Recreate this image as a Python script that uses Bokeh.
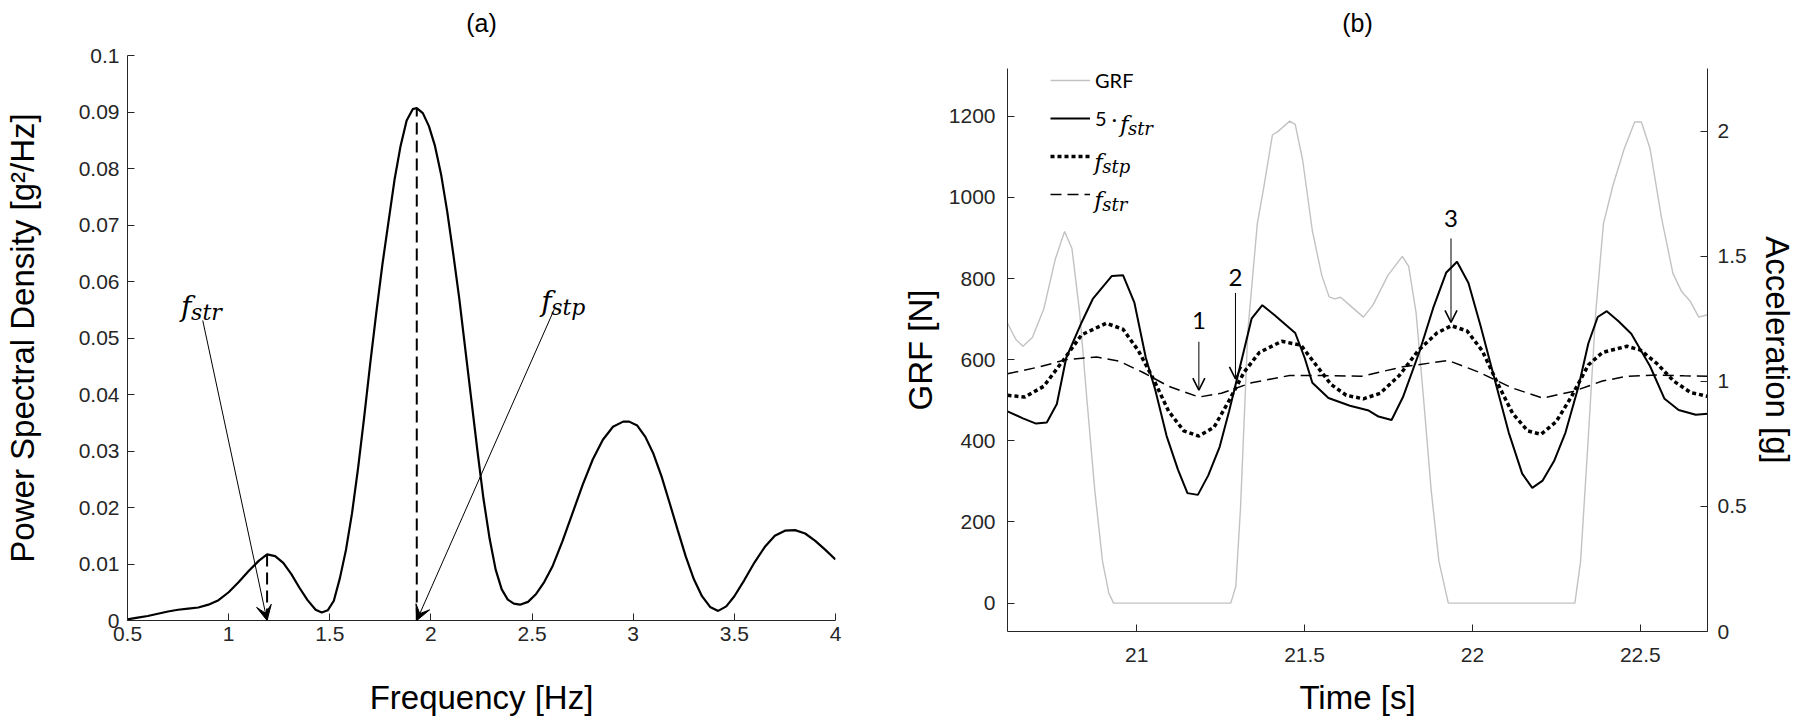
from bokeh.plotting import figure
from bokeh.models import (Range1d, LinearAxis, FixedTicker, Label, Arrow, VeeHead,
                          OpenHead, Legend, LegendItem)
from bokeh.layouts import row
from bokeh.embed import file_html
from bokeh.resources import INLINE

# ---------------- data: panel (a) ----------------
psd_freq = [0.50, 0.55, 0.60, 0.65, 0.70, 0.75, 0.80, 0.85, 0.90, 0.95,
            1.00, 1.05, 1.10, 1.15, 1.19, 1.23, 1.27, 1.31, 1.35, 1.39,
            1.43, 1.46, 1.49, 1.52, 1.55, 1.58, 1.61, 1.64, 1.67, 1.70,
            1.73, 1.76, 1.79, 1.82, 1.85, 1.88, 1.91, 1.93, 1.96, 1.99,
            2.02, 2.05, 2.08, 2.11, 2.14, 2.17, 2.20, 2.23, 2.26, 2.29,
            2.32, 2.35, 2.38, 2.41, 2.44, 2.48, 2.52, 2.56, 2.60, 2.65,
            2.70, 2.75, 2.80, 2.85, 2.90, 2.95, 2.98, 3.02, 3.06, 3.10,
            3.14, 3.18, 3.22, 3.26, 3.30, 3.34, 3.38, 3.42, 3.46, 3.50,
            3.55, 3.60, 3.65, 3.70, 3.75, 3.80, 3.85, 3.90, 3.95, 4.00]
psd_val = [0.0002, 0.0005, 0.0008, 0.0012, 0.0016, 0.0019, 0.0021, 0.0023, 0.0028, 0.0036,
           0.0050, 0.0068, 0.0088, 0.0106, 0.0117, 0.0114, 0.0102, 0.0082, 0.0058, 0.0036,
           0.0019, 0.0014, 0.0018, 0.0035, 0.0075, 0.0125, 0.0190, 0.0270, 0.0360, 0.0455,
           0.0545, 0.0630, 0.0705, 0.0780, 0.0840, 0.0885, 0.0905, 0.0907, 0.0898, 0.0875,
           0.0840, 0.0790, 0.0725, 0.0650, 0.0570, 0.0480, 0.0390, 0.0300, 0.0215, 0.0145,
           0.0090, 0.0055, 0.0037, 0.0030, 0.0028, 0.0033, 0.0047, 0.0068, 0.0095, 0.0140,
           0.0190, 0.0240, 0.0285, 0.0320, 0.0343, 0.0352, 0.0352, 0.0345, 0.0325, 0.0295,
           0.0255, 0.0208, 0.0160, 0.0113, 0.0073, 0.0043, 0.0024, 0.0017, 0.0025, 0.0043,
           0.0072, 0.0103, 0.0130, 0.0150, 0.0159, 0.0160, 0.0154, 0.0141, 0.0125, 0.0108]
peak_freq = [1.19, 1.93]          # f_str, f_stp
peak_psd = [0.0117, 0.0907]
freq_ticks = [0.5, 1.0, 1.5, 2.0, 2.5, 3.0, 3.5, 4.0]
freq_tick_labels = ["0.5", "1", "1.5", "2", "2.5", "3", "3.5", "4"]
psd_ticks = [0.0, 0.01, 0.02, 0.03, 0.04, 0.05, 0.06, 0.07, 0.08, 0.09, 0.1]
psd_tick_labels = ["0", "0.01", "0.02", "0.03", "0.04", "0.05", "0.06", "0.07", "0.08",
                   "0.09", "0.1"]

# ---------------- data: panel (b) ----------------
grf_t = [20.615, 20.64, 20.661, 20.689, 20.723, 20.757, 20.785, 20.807, 20.83, 20.852,
         20.875, 20.898, 20.917, 20.931, 21.28, 21.295, 21.309, 21.331, 21.359, 21.378,
         21.404, 21.421, 21.455, 21.472, 21.494, 21.523, 21.551, 21.573, 21.59, 21.607,
         21.635, 21.675, 21.703, 21.748, 21.791, 21.81, 21.832, 21.855, 21.877, 21.90,
         21.928, 22.305, 22.322, 22.345, 22.367, 22.39, 22.418, 22.452, 22.483, 22.503,
         22.529, 22.563, 22.597, 22.623, 22.648, 22.674, 22.70]
grf_n = [690, 650, 633, 655, 725, 847, 916, 874, 716, 497,
         278, 103, 24, 0, 0, 41, 234, 672, 935, 1023,
         1154, 1163, 1188, 1180, 1093, 918, 808, 755, 750, 754,
         734, 705, 734, 808, 855, 830, 716, 497, 278, 103,
         0, 0, 103, 409, 716, 935, 1029, 1120, 1186, 1186,
         1120, 950, 813, 768, 745, 705, 711]

str5_t = [20.615, 20.661, 20.70, 20.732, 20.762, 20.79, 20.836, 20.869, 20.926, 20.959,
          20.993, 21.027, 21.055, 21.089, 21.123, 21.151, 21.182, 21.213, 21.247, 21.275,
          21.314, 21.342, 21.374, 21.41, 21.472, 21.5, 21.523, 21.571, 21.635, 21.691,
          21.72, 21.759, 21.793, 21.843, 21.883, 21.922, 21.954, 21.988, 22.024, 22.063,
          22.108, 22.148, 22.178, 22.209, 22.243, 22.277, 22.316, 22.345, 22.373, 22.40,
          22.435, 22.473, 22.529, 22.572, 22.614, 22.665, 22.70]
str5_acc = [0.880, 0.852, 0.831, 0.835, 0.909, 1.094, 1.236, 1.329, 1.421, 1.424,
            1.314, 1.094, 0.966, 0.781, 0.646, 0.553, 0.546, 0.624, 0.738, 0.880,
            1.094, 1.250, 1.304, 1.265, 1.193, 1.094, 0.994, 0.933, 0.902, 0.883,
            0.859, 0.845, 0.937, 1.122, 1.293, 1.435, 1.478, 1.393, 1.222, 1.023,
            0.795, 0.631, 0.574, 0.603, 0.681, 0.795, 0.980, 1.151, 1.257, 1.280,
            1.240, 1.190, 1.060, 0.930, 0.885, 0.866, 0.870]

stp_t = [20.615, 20.667, 20.723, 20.779, 20.836, 20.909, 20.959, 21.005, 21.05, 21.095,
         21.14, 21.185, 21.23, 21.275, 21.32, 21.365, 21.432, 21.489, 21.534, 21.579,
         21.624, 21.675, 21.725, 21.782, 21.838, 21.894, 21.937, 21.984, 22.029, 22.074,
         22.119, 22.164, 22.204, 22.249, 22.294, 22.345, 22.387, 22.46, 22.50, 22.55,
         22.60, 22.65, 22.70]
stp_acc = [0.944, 0.937, 0.980, 1.080, 1.186, 1.232, 1.208, 1.122, 1.008, 0.880,
           0.802, 0.781, 0.816, 0.923, 1.037, 1.115, 1.160, 1.144, 1.065, 0.987,
           0.944, 0.930, 0.952, 1.023, 1.122, 1.193, 1.222, 1.201, 1.122, 0.994,
           0.873, 0.802, 0.788, 0.838, 0.937, 1.065, 1.115, 1.140, 1.125, 1.070,
           1.000, 0.955, 0.940]

str_t = [20.615, 20.712, 20.791, 20.881, 20.948, 21.016, 21.095, 21.185, 21.252, 21.342,
         21.455, 21.556, 21.669, 21.793, 21.928, 22.018, 22.119, 22.209, 22.299, 22.387,
         22.46, 22.55, 22.63, 22.70]
str_acc = [1.030, 1.058, 1.087, 1.097, 1.080, 1.037, 0.980, 0.937, 0.952, 0.994,
           1.023, 1.023, 1.020, 1.058, 1.083, 1.037, 0.973, 0.933, 0.959, 1.001,
           1.020, 1.025, 1.022, 1.020]

time_ticks = [21.0, 21.5, 22.0, 22.5]
time_tick_labels = ["21", "21.5", "22", "22.5"]
grf_ticks = [0, 200, 400, 600, 800, 1000, 1200]
acc_ticks = [0.0, 0.5, 1.0, 1.5, 2.0]
acc_tick_labels = ["0", "0.5", "1", "1.5", "2"]

event_labels = ["1", "2", "3"]
event_t = [21.185, 21.294, 21.936]

# ---------------- styling ----------------
FONT = "'Liberation Sans', Arial, Helvetica, sans-serif"
MATH = "'DejaVu Serif', serif"
CAL = "Lato, 'Open Sans', sans-serif"
AX = "#262626"
H = 722
W1, W2 = 898, 900


def style_axis(ax, label_standoff, tick_standoff, label_size="33px"):
    ax.axis_line_color = AX
    ax.axis_line_width = 1
    ax.major_tick_line_color = AX
    ax.major_tick_in = 7
    ax.major_tick_out = 0
    ax.minor_tick_line_color = None
    ax.major_label_text_font = FONT
    ax.major_label_text_font_size = "21px"
    ax.major_label_text_color = AX
    ax.major_label_standoff = tick_standoff
    ax.axis_label_text_font = FONT
    ax.axis_label_text_font_size = label_size
    ax.axis_label_text_font_style = "normal"
    ax.axis_label_text_color = "black"
    ax.axis_label_standoff = label_standoff


def title_axis(p, text, standoff):
    ax = LinearAxis(axis_label=text, ticker=FixedTicker(ticks=[]))
    ax.axis_line_color = None
    ax.major_tick_in = 0
    ax.major_tick_out = 0
    ax.minor_tick_in = 0
    ax.minor_tick_out = 0
    ax.major_tick_line_color = None
    ax.minor_tick_line_color = None
    ax.major_label_text_color = None
    ax.major_label_standoff = 0
    ax.axis_label_text_font = FONT
    ax.axis_label_text_font_size = "25px"
    ax.axis_label_text_font_style = "normal"
    ax.axis_label_text_color = "black"
    ax.axis_label_standoff = standoff
    p.add_layout(ax, "above")


def math_label(p, x, y, sub, size, sub_size, f_adv, sub_drop, y_shift=0, **kw):
    p.add_layout(Label(x=x, y=y, y_offset=y_shift, text="f", text_font=MATH,
                       text_font_size=f"{size}px", text_font_style="italic",
                       text_color="black", text_baseline="alphabetic", text_align="left", **kw))
    p.add_layout(Label(x=x, y=y, x_offset=f_adv, y_offset=y_shift - sub_drop, text=sub,
                       text_font=MATH, text_font_size=f"{sub_size}px",
                       text_font_style="italic", text_color="black",
                       text_baseline="alphabetic", text_align="left", **kw))


# ================= panel (a) =================
p1 = figure(width=W1, height=H, x_range=Range1d(0.5, 4.0), y_range=Range1d(0.0, 0.1),
            output_backend="svg", toolbar_location=None,
            min_border_left=122, min_border_right=W1 - 835, min_border_top=55,
            min_border_bottom=H - 620)
p1.frame_align = False
p1.grid.visible = False
p1.outline_line_color = None
p1.background_fill_color = "white"
p1.border_fill_color = "white"

xa1 = p1.below[0]
ya1 = p1.left[0]
xa1.ticker = FixedTicker(ticks=freq_ticks)
xa1.major_label_overrides = dict(zip(freq_ticks, freq_tick_labels))
ya1.ticker = FixedTicker(ticks=psd_ticks)
ya1.major_label_overrides = dict(zip(psd_ticks, psd_tick_labels))
xa1.axis_label = "Frequency [Hz]"
ya1.axis_label = "Power Spectral Density [g\u00b2/Hz]"
style_axis(xa1, 35, 6)
style_axis(ya1, 35, 8)
title_axis(p1, "(a)", 19)

p1.line(psd_freq, psd_val, line_color="black", line_width=2.2)
p1.segment(x0=peak_freq, y0=[0.0] * len(peak_freq), x1=peak_freq, y1=peak_psd,
           line_color="black", line_width=2, line_dash="12 6")

p1.add_layout(Arrow(x_start=0.872, y_start=0.0531, x_end=peak_freq[0], y_end=0.0,
                    line_width=1, line_color="black",
                    end=VeeHead(size=15, fill_color="black", line_color="black", line_width=1)))
p1.add_layout(Arrow(x_start=2.61, y_start=0.0551, x_end=peak_freq[1], y_end=0.0,
                    line_width=1, line_color="black",
                    end=VeeHead(size=15, fill_color="black", line_color="black", line_width=1)))
math_label(p1, 0.765, 0.0556, "str", 28, 22, 10, 6)
math_label(p1, 2.545, 0.0564, "stp", 28, 22, 10, 6)

# ================= panel (b) =================
X0, X1 = 20.615, 22.70
G0, G1 = -70.0, 1318.0
BL, BR, BT, BB = 999 - W1, W1 + W2 - 1709, 68, H - 631
p2 = figure(width=W2, height=H, x_range=Range1d(X0, X1), y_range=Range1d(G0, G1),
            output_backend="svg", toolbar_location=None,
            min_border_left=BL, min_border_right=BR, min_border_top=BT, min_border_bottom=BB)
p2.frame_align = False
p2.extra_y_ranges = {"acc": Range1d(0.0, 2.25)}
p2.grid.visible = False
p2.outline_line_color = None
p2.background_fill_color = "white"
p2.border_fill_color = "white"

xa2 = p2.below[0]
ya2 = p2.left[0]
acc_axis = LinearAxis(y_range_name="acc", axis_label="Acceleration [g]")
p2.add_layout(acc_axis, "right")
xa2.ticker = FixedTicker(ticks=time_ticks)
xa2.major_label_overrides = dict(zip(time_ticks, time_tick_labels))
ya2.ticker = FixedTicker(ticks=grf_ticks)
acc_axis.ticker = FixedTicker(ticks=acc_ticks)
acc_axis.major_label_overrides = dict(zip(acc_ticks, acc_tick_labels))
xa2.axis_label = "Time [s]"
ya2.axis_label = "GRF [N]"
style_axis(xa2, 14, 16)
style_axis(ya2, 7, 12)
style_axis(acc_axis, 9, 10)
title_axis(p2, "(b)", 32)

r_grf = p2.line(grf_t, grf_n, line_color="#c2c2c2", line_width=1.4)
r_str5 = p2.line(str5_t, str5_acc, y_range_name="acc", line_color="black", line_width=2)
r_stp = p2.line(stp_t, stp_acc, y_range_name="acc", line_color="black", line_width=3.5,
                line_dash="4 3")
r_str = p2.line(str_t, str_acc, y_range_name="acc", line_color="black", line_width=1.5,
                line_dash="11 6")

# event arrows 1, 2, 3 (open heads), in acceleration units
ev_text_acc = [1.243, 1.414, 1.649]
ev_start_acc = [1.158, 1.353, 1.571]
ev_tip_acc = [0.965, 1.01, 1.235]
for lab, t, ya, ys, ye in zip(event_labels, event_t, ev_text_acc, ev_start_acc, ev_tip_acc):
    p2.add_layout(Label(x=t, y=ya, text=lab, y_range_name="acc", text_font=CAL,
                        text_font_size="24px", text_align="center", text_baseline="middle",
                        text_color="black"))
    p2.add_layout(Arrow(x_start=t, y_start=ys, x_end=t, y_end=ye, y_range_name="acc",
                        line_width=1, line_color="black",
                        end=OpenHead(size=12, line_width=1.6, line_color="black")))

# legend (no box); math parts overlaid as text labels
FRAME_W, FRAME_H = W2 - BL - BR, H - BT - BB
LEG_X, LEG_TOP, GH, SP, SW = 43, 0, 24, 14, 40
PITCH = GH + SP
LEG_H = 4 * GH + 3 * SP
legend = Legend(items=[LegendItem(label="GRF", renderers=[r_grf]),
                       LegendItem(label="5 \u00b7", renderers=[r_str5]),
                       LegendItem(label="\u00a0", renderers=[r_stp]),
                       LegendItem(label="\u00a0\u00a0", renderers=[r_str])],
                location=(LEG_X, FRAME_H - LEG_TOP - LEG_H),
                orientation="vertical", glyph_width=SW, glyph_height=GH,
                label_height=GH, spacing=SP, padding=0, margin=0, label_standoff=5,
                border_line_color=None, background_fill_alpha=0.0,
                label_text_font=CAL, label_text_font_size="20px", label_text_color="black")
p2.add_layout(legend)

xpp = (X1 - X0) / FRAME_W
ypp = (G1 - G0) / FRAME_H
text_px = LEG_X + SW + 5
for i, (sub, dx) in enumerate([("str", 26), ("stp", 0), ("str", 0)]):
    center = LEG_TOP + GH / 2 + PITCH * (i + 1)
    cx = X0 + (text_px + dx) * xpp
    cy = G1 - center * ypp
    math_label(p2, cx, cy, sub, 23, 18, 8, 5, y_shift=-5)

layout = row(p1, p2)
open("out.html", "w").write(file_html(layout, INLINE))
